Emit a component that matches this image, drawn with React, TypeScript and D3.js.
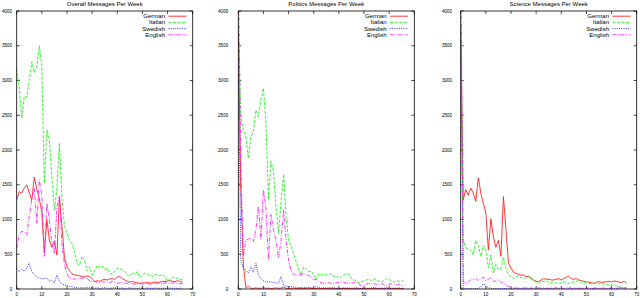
import React, { useEffect, useRef } from 'react'
import * as d3 from 'd3'

const titles = ['Overall Messages Per Week', 'Politics Messages Per Week', 'Science Messages Per Week']
const languages = ['German', 'Italian', 'Swedish', 'English']
const xTicks = [0, 10, 20, 30, 40, 50, 60, 70]
const yTicks = [0, 500, 1000, 1500, 2000, 2500, 3000, 3500, 4000]

// weekly counts, index = week
const overallGerman = [
    1280, 1400, 1380, 1450, 1500, 1380, 1280, 1610, 1440, 1300,
    1100, 520, 1000, 700, 600, 690, 490, 1330, 900, 450,
    320, 260, 220, 200, 200, 190, 180, 170, 190, 180,
    150, 105, 120, 110, 130, 140, 130, 145, 150, 140,
    170, 180, 150, 130, 110, 100, 110, 95, 90, 80,
    90, 85, 95, 85, 90, 100, 95, 100, 110, 105,
    115, 120, 110, 105, 120, 110, 100
]
const overallItalian = [
    3170, 2900, 2460, 2770, 2760, 3000, 3270, 3110, 3200, 3500,
    3200, 1520, 2290, 2150, 1600, 1130, 1450, 2100, 1300, 900,
    800, 700, 650, 550, 360, 340, 470, 420, 260, 320,
    200, 260, 340, 310, 330, 280, 300, 230, 210, 260,
    300, 290, 280, 250, 200, 180, 240, 210, 250, 160,
    200, 230, 210, 200, 180, 210, 200, 190, 210, 180,
    110, 150, 170, 160, 150, 140, 130
]
const overallSwedish = [
    300, 250, 280, 260, 300, 370, 250, 200, 170, 160,
    145, 150, 160, 110, 130, 90, 200, 110, 70, 60,
    45, 40, 30, 25, 20, 15, 20, 15, 25, 20,
    15, 12, 18, 10, 14, 20, 12, 10, 15, 18,
    12, 10, 14, 8, 12, 16, 10, 12, 8, 14,
    10, 12, 15, 10, 8, 12, 14, 10, 12, 9,
    11, 14, 10, 12, 8, 10, 12
]
const overallEnglish = [
    580, 780, 830, 820, 780, 1050, 1300, 1450, 950, 1570,
    1350, 470, 1230, 1000, 650, 520, 1180, 1330, 650, 350,
    220, 160, 150, 140, 150, 160, 150, 180, 150, 120,
    105, 110, 95, 90, 100, 105, 100, 90, 110, 100,
    80, 90, 95, 85, 80, 90, 75, 70, 80, 75,
    70, 80, 75, 70, 80, 75, 85, 80, 70, 90,
    85, 80, 90, 85, 80, 75, 80
]

const politicsGerman = [
    3700, 1450, 350, 20, 40, 10, 10, 15, 10, 10,
    20, 10, 12, 8, 10, 15, 10, 12, 30, 10,
    8, 10, 12, 6, 8, 10, 7, 9, 12, 8,
    6, 8, 10, 7, 5, 8, 6, 9, 7, 5,
    8, 6, 7, 5, 9, 6, 4, 7, 5, 6,
    8, 5, 6, 4, 7, 5, 6, 8, 5, 4,
    6, 5, 7, 4, 6, 5, 4
]
const politicsItalian = [
    3870, 2480, 2290, 2200, 1880, 2190, 2260, 2575, 2480, 2720,
    2890, 2400, 1280, 1840, 1700, 1180, 800, 1250, 1650, 1040,
    700, 620, 510, 400, 270, 200, 320, 280, 250, 260,
    200, 130, 220, 200, 210, 200, 210, 220, 180, 190,
    150, 180, 200, 225, 210, 150, 130, 110, 90, 100,
    120, 130, 140, 120, 150, 130, 110, 100, 120, 150,
    140, 110, 100, 120, 110, 125, 100
]
const politicsSwedish = [
    3300, 420, 300, 270, 230, 320, 240, 370, 200, 150,
    120, 100, 110, 100, 95, 90, 85, 180, 60, 40,
    35, 35, 30, 25, 20, 22, 18, 20, 25, 15,
    20, 35, 18, 15, 20, 12, 18, 15, 20, 12,
    15, 10, 18, 12, 15, 10, 14, 20, 12, 10,
    15, 12, 10, 14, 25, 12, 10, 15, 12, 20,
    10, 14, 12, 10, 15, 10, 12
]
const politicsEnglish = [
    4600, 1800, 470, 700, 720, 730, 680, 850, 1190, 720,
    1430, 1150, 420, 1070, 850, 700, 440, 700, 1140, 700,
    410, 260, 210, 200, 200, 210, 220, 200, 190, 177,
    130, 140, 105, 90, 80, 85, 90, 80, 85, 90,
    95, 100, 90, 85, 80, 85, 90, 100, 70, 50,
    55, 70, 80, 75, 80, 60, 70, 80, 60, 50,
    70, 75, 65, 60, 70, 55, 50
]

const scienceGerman = [
    3780, 1280, 1430, 1350, 1450, 1380, 1260, 1600, 1380, 1230,
    1100, 560, 1010, 750, 600, 700, 470, 1330, 850, 370,
    300, 240, 225, 210, 200, 200, 180, 175, 160, 130,
    110, 105, 130, 150, 140, 140, 130, 130, 140, 150,
    130, 150, 170, 180, 150, 140, 150, 130, 120, 110,
    100, 100, 90, 80, 100, 105, 95, 100, 105, 110,
    100, 115, 110, 100, 95, 110, 80
]
const scienceItalian = [
    3770, 720, 590, 580, 560, 490, 700, 630, 470, 630,
    560, 300, 490, 230, 350, 280, 300, 460, 300, 200,
    180, 150, 170, 190, 160, 150, 180, 190, 140, 120,
    100, 80, 105, 110, 120, 100, 90, 105, 90, 80,
    95, 100, 85, 80, 95, 100, 110, 120, 90, 85,
    90, 80, 75, 85, 90, 80, 70, 75, 70, 55,
    60, 50, 45, 35, 20, 25, 20
]
const scienceSwedish = [
    3600, 5, 4, 6, 5, 3, 6, 8, 30, 80,
    40, 20, 10, 6, 5, 8, 4, 6, 5, 3,
    4, 6, 3, 5, 4, 3, 5, 2, 4, 3,
    5, 3, 4, 2, 3, 5, 3, 4, 2, 3,
    4, 3, 2, 5, 3, 4, 2, 3, 4, 2,
    3, 2, 4, 3, 2, 3, 4, 2, 3, 2,
    3, 2, 4, 3, 2, 3, 2
]
const scienceEnglish = [
    5200, 105, 80, 100, 130, 140, 150, 120, 150, 170,
    120, 140, 165, 105, 120, 130, 100, 80, 60, 35,
    20, 15, 12, 18, 10, 14, 20, 12, 15, 10,
    12, 18, 10, 14, 8, 12, 15, 10, 20, 12,
    14, 10, 12, 25, 10, 15, 12, 10, 14, 10,
    12, 15, 10, 12, 14, 10, 12, 15, 10, 12,
    14, 10, 12, 15, 25, 12, 10
]

const panels = [
    [overallGerman, overallItalian, overallSwedish, overallEnglish],
    [politicsGerman, politicsItalian, politicsSwedish, politicsEnglish],
    [scienceGerman, scienceItalian, scienceSwedish, scienceEnglish],
]

export default function App() {
    const ref = useRef<SVGSVGElement>(null)

    let width = 640, height = 298
    let panelLeft = [16.7, 238.3, 460.7]
    let labelGap = [4.5, 10, 8.5]
    let plotW = 176, top = 11, bottom = 289
    let colors = ['#ff2020', '#20f020', '#2020ff', '#ff20ff']
    let dashes = ['none', '3,1.5', '1,1.2', '4,1.5,1,1.5']
    let font = '"Liberation Sans", Arial, Helvetica, sans-serif'

    function drawPanel(svg: any, p: number) {
        let left = panelLeft[p]
        let x = d3.scaleLinear().domain([0, 70]).range([left, left + plotW])
        let y = d3.scaleLinear().domain([0, 4000]).range([bottom, top])

        let clipId = 'clip' + p
        svg.append('clipPath').attr('id', clipId)
            .append('rect')
            .attr('x', left).attr('y', top)
            .attr('width', plotW).attr('height', bottom - top)

        // title
        svg.append('text')
            .attr('x', left + plotW / 2)
            .attr('y', 6)
            .attr('text-anchor', 'middle')
            .style('font-size', '6px')
            .style('font-family', font)
            .text(titles[p])

        // ticks (mirrored, inward)
        let g = svg.append('g').attr('stroke', '#000').attr('stroke-width', 0.7)
        xTicks.forEach(function (t) {
            g.append('line').attr('x1', x(t)).attr('x2', x(t)).attr('y1', bottom).attr('y2', bottom - 3)
            g.append('line').attr('x1', x(t)).attr('x2', x(t)).attr('y1', top).attr('y2', top + 3)
        })
        yTicks.forEach(function (t) {
            g.append('line').attr('x1', left).attr('x2', left + 3).attr('y1', y(t)).attr('y2', y(t))
            g.append('line').attr('x1', left + plotW).attr('x2', left + plotW - 3).attr('y1', y(t)).attr('y2', y(t))
        })

        svg.append('g').selectAll('text')
            .data(xTicks)
            .enter()
            .append('text')
            .attr('x', function (d: number) { return x(d) })
            .attr('y', 296)
            .attr('text-anchor', 'middle')
            .style('font-size', '4.6px')
            .style('font-family', font)
            .text(function (d: number) { return d })

        svg.append('g').selectAll('text')
            .data(yTicks)
            .enter()
            .append('text')
            .attr('x', left - labelGap[p])
            .attr('y', function (d: number) { return y(d) + 1.6 })
            .attr('text-anchor', 'end')
            .style('font-size', '4.6px')
            .style('font-family', font)
            .text(function (d: number) { return d })

        // series
        let line = d3.line<number>()
            .x(function (d, i) { return x(i) })
            .y(function (d) { return y(d) })

        let lines = svg.append('g').attr('clip-path', 'url(#' + clipId + ')')
        panels[p].forEach(function (series, k) {
            lines.append('path')
                .attr('d', line(series))
                .attr('fill', 'none')
                .attr('stroke', colors[k])
                .attr('stroke-width', 0.9)
                .attr('stroke-dasharray', dashes[k])
        })

        // legend
        let right = left + plotW
        languages.forEach(function (name, k) {
            let ly = 16.2 + k * 6.2
            svg.append('text')
                .attr('x', right - 27.7)
                .attr('y', ly + 2)
                .attr('text-anchor', 'end')
                .style('font-size', '6px')
                .style('font-family', font)
                .text(name)
            svg.append('line')
                .attr('x1', right - 24.2).attr('x2', right - 6.2)
                .attr('y1', ly).attr('y2', ly)
                .attr('stroke', colors[k])
                .attr('stroke-width', 0.9)
                .attr('stroke-dasharray', dashes[k])
        })

        svg.append('rect')
            .attr('x', left).attr('y', top)
            .attr('width', plotW).attr('height', bottom - top)
            .attr('fill', 'none')
            .attr('stroke', '#000')
            .attr('stroke-width', 0.8)
    }

    useEffect(() => {
        let svg = d3.select(ref.current)
        svg.selectAll('*').remove()
        svg.append('rect').attr('width', width).attr('height', height).attr('fill', '#fff')
        for (let p = 0; p < 3; p++) drawPanel(svg, p)
    }, [])

    return (
        <svg ref={ref} width={width} height={height}
            style={{ position: 'absolute', left: 0, top: 0, display: 'block' }} />
    )
}
